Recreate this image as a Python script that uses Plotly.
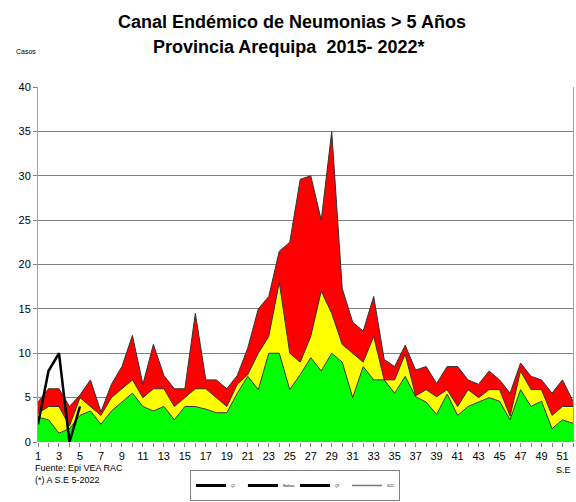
import plotly.graph_objects as go

semanas = list(range(1, 53))

# limite superior de cada zona (acumulado)
exito = [2.8, 2.5, 1.0, 1.5, 3.0, 3.5, 2.0, 3.5, 4.5, 5.5,
         4.0, 3.5, 4.0, 2.5, 4.0, 4.0, 3.7, 3.3, 3.3, 5.5,
         7.4, 5.9, 10.0, 10.0, 5.9, 7.6, 9.5, 8.0, 10.0, 9.0,
         5.0, 8.5, 7.0, 7.0, 5.5, 7.4, 5.1, 4.5, 3.1, 5.4,
         3.0, 4.0, 4.5, 5.0, 4.6, 2.5, 5.9, 4.0, 4.6, 1.5,
         2.5, 2.1]
seguridad = [3.2, 4.0, 4.0, 1.8, 5.0, 4.0, 3.0, 5.0, 6.0, 7.0,
             5.0, 6.0, 6.0, 4.0, 5.0, 6.0, 6.0, 5.0, 4.0, 6.5,
             7.6, 10.0, 11.9, 18.0, 10.0, 9.0, 11.9, 17.0, 14.5, 11.0,
             10.0, 9.0, 11.9, 7.0, 7.0, 9.9, 5.2, 5.9, 5.1, 5.9,
             4.0, 5.9, 5.0, 5.9, 5.9, 2.9, 8.0, 5.9, 5.9, 3.0,
             4.0, 4.0]
alarma = [4.5, 6.0, 6.0, 4.0, 5.3, 7.0, 3.4, 6.5, 8.5, 12.0,
          6.5, 11.0, 7.5, 6.0, 6.0, 14.5, 7.0, 7.0, 6.0, 7.5,
          10.6, 15.0, 16.4, 21.5, 22.5, 29.6, 30.0, 25.0, 35.0, 17.3,
          13.5, 12.5, 16.4, 9.3, 8.5, 10.9, 8.1, 8.5, 6.6, 8.5,
          8.5, 7.0, 6.5, 8.0, 7.0, 5.5, 8.9, 7.4, 7.0, 5.5,
          7.0, 4.6]

semanas_2022 = [1, 2, 3, 4, 5]
casos_2022 = [2, 8, 10, 0, 4]

leyenda = ["Q1", "Mediana", "Q3", "2022"]

fuente = "Liberation Sans, Arial"

fig = go.Figure()

# zonas del canal endemico
fig.add_trace(go.Scatter(
    x=semanas, y=exito, mode="lines", fill="tozeroy",
    fillcolor="#00FF00", line=dict(color="#333333", width=1),
    showlegend=False, hoverinfo="skip"
))
fig.add_trace(go.Scatter(
    x=semanas, y=seguridad, mode="lines", fill="tonexty",
    fillcolor="#FFFF00", line=dict(color="#333333", width=1),
    showlegend=False, hoverinfo="skip"
))
fig.add_trace(go.Scatter(
    x=semanas, y=alarma, mode="lines", fill="tonexty",
    fillcolor="#FF0000", line=dict(color="#333333", width=1),
    showlegend=False, hoverinfo="skip"
))

# casos 2022
fig.add_trace(go.Scatter(
    x=semanas_2022, y=casos_2022, mode="lines",
    line=dict(color="#000000", width=2.5),
    showlegend=False
))

# entradas de la leyenda
for i, nombre in enumerate(leyenda):
    fig.add_trace(go.Scatter(
        x=[None], y=[None], mode="lines", name=nombre,
        line=dict(color="#000000" if i < 3 else "#777777",
                  width=3 if i < 3 else 1.5)
    ))

fig.update_layout(
    width=576, height=502,
    paper_bgcolor="white", plot_bgcolor="white",
    margin=dict(l=38, r=3, t=87, b=60),
    font=dict(family=fuente, color="#000000"),
    legend=dict(
        orientation="h", x=0.284, y=0.002, xanchor="left", yanchor="bottom",
        yref="container",
        bordercolor="#808080", borderwidth=1, font=dict(size=3),
        itemwidth=30, entrywidth=7, traceorder="normal"
    ),
    xaxis=dict(
        range=[1, 52], tickvals=semanas[::2],
        ticks="outside", ticklen=4, tickcolor="#808080",
        minor=dict(dtick=1, tick0=1, ticks="outside", ticklen=4, tickcolor="#808080"),
        showgrid=False, showline=False, zeroline=False,
        tickfont=dict(size=11)
    ),
    yaxis=dict(
        range=[0, 40], dtick=5,
        ticks="outside", ticklen=4, tickcolor="#808080",
        showgrid=True, gridcolor="#808080", gridwidth=1,
        showline=True, linecolor="#a0a0a0", linewidth=1, mirror=True,
        zeroline=False, tickfont=dict(size=11)
    ),
    annotations=[
        dict(text="<b>Canal Endémico de Neumonias > 5 Años</b>", x=0.474, y=1.183,
             xref="paper", yref="paper", xanchor="center", yanchor="middle",
             showarrow=False, font=dict(size=18)),
        dict(text="<b>Provincia Arequipa  2015- 2022*</b>", x=0.468, y=1.113,
             xref="paper", yref="paper", xanchor="center", yanchor="middle",
             showarrow=False, font=dict(size=18)),
        dict(text="Casos", x=-0.045, y=1.099, xref="paper", yref="paper",
             xanchor="left", yanchor="middle", showarrow=False, font=dict(size=7)),
        dict(text="S.E", x=0.965, y=-0.058, xref="paper", yref="paper",
             xanchor="left", yanchor="top", showarrow=False, font=dict(size=9)),
        dict(text="Fuente: Epi VEA RAC", x=-0.01, y=-0.053, xref="paper", yref="paper",
             xanchor="left", yanchor="top", showarrow=False, font=dict(size=9)),
        dict(text="(*) A S.E 5-2022", x=-0.01, y=-0.088, xref="paper", yref="paper",
             xanchor="left", yanchor="top", showarrow=False, font=dict(size=9)),
    ],
)

fig.write_html("out.html", config={"displayModeBar": False},
               post_script="document.body.style.margin='0';")
